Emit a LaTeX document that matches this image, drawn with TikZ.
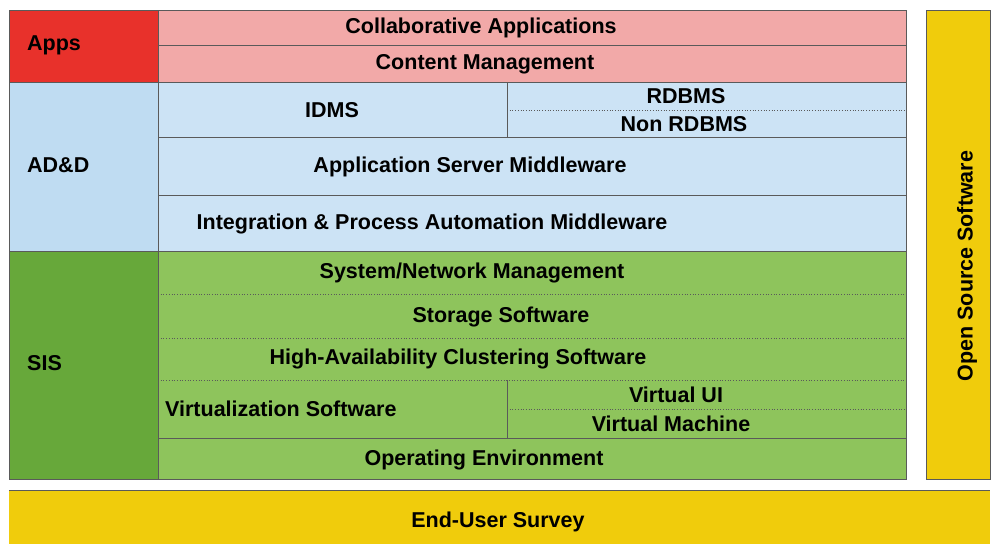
\documentclass[tikz,border=0pt]{standalone}
\usepackage{fontspec}
\setmainfont{Liberation Sans}
\usetikzlibrary{positioning}

\definecolor{appsred}{HTML}{E8312B}
\definecolor{appspink}{HTML}{F2A9A8}
\definecolor{addblue}{HTML}{BFDCF2}
\definecolor{addgrid}{HTML}{CCE3F5}
\definecolor{sisgreen}{HTML}{67A83A}
\definecolor{sisgrid}{HTML}{8EC45C}
\definecolor{osyellow}{HTML}{F0CC0C}
\definecolor{edge}{HTML}{5A5A5A}

\tikzset{
	layer/.style={font=\bfseries\fontsize{21.5}{25}\selectfont, text=black, inner sep=0pt},
	sep/.style={draw=edge, line width=0.7pt},
	dotsep/.style={draw=edge, line width=0.7pt, dotted},
}

\begin{document}
\begin{tikzpicture}[x=1pt, y=-1pt]

	\useasboundingbox (0,0) rectangle (993,544);

	%layer fills
	\fill[appsred] (9,10) rectangle (158,82);
	\fill[appspink] (158,10) rectangle (906,82);
	\fill[addblue] (9,82) rectangle (158,251);
	\fill[addgrid] (158,82) rectangle (906,251);
	\fill[sisgreen] (9,251) rectangle (158,479);
	\fill[sisgrid] (158,251) rectangle (906,479);
	\fill[osyellow] (926,10) rectangle (990,479);
	\fill[osyellow] (9,490) rectangle (990,544);

	%Apps rows
	\draw[sep] (158,45) -- (906,45);
	\draw[sep] (9,82) -- (906,82);
	%AD&D rows
	\draw[sep] (507,82) -- (507,137);
	\draw[dotsep] (507,110) -- (906,110);
	\draw[sep] (158,137) -- (906,137);
	\draw[sep] (158,195) -- (906,195);
	\draw[sep] (9,251) -- (906,251);
	%SIS rows
	\draw[dotsep] (158,294) -- (906,294);
	\draw[dotsep] (158,338) -- (906,338);
	\draw[dotsep] (158,380) -- (906,380);
	\draw[sep] (507,380) -- (507,438);
	\draw[dotsep] (507,409) -- (906,409);
	\draw[sep] (158,438) -- (906,438);

	%outlines
	\draw[sep] (158,10) -- (158,479);
	\draw[sep] (9,10) rectangle (906,479);
	\draw[sep] (926,10) rectangle (990,479);
	\draw[sep] (9,490) -- (990,490);

	%layer labels
	\node[layer, anchor=west] (apps) at (27,45) {Apps};
	\node[layer, anchor=west] (add) at (27,165) {AD\&D};
	\node[layer, anchor=west] (sis) at (27,363) {SIS};

	%Apps
	\node[layer] (collab) at (481,28) {Collaborative Applications};
	\node[layer] (content) at (485,64) {Content Management};
	%AD&D
	\node[layer] (idms) at (332,110) {IDMS};
	\node[layer] (rdbms) at (686,96) {RDBMS};
	\node[layer] (nonrdbms) at (684,124) {Non RDBMS};
	\node[layer] (appserver) at (470,167) {Application Server Middleware};
	\node[layer] (integration) at (432,224) {Integration \& Process Automation Middleware};
	%SIS
	\node[layer] (sysnet) at (472,273) {System/Network Management};
	\node[layer] (storage) at (501,317) {Storage Software};
	\node[layer] (highavail) at (458,359) {High-Availability Clustering Software};
	\node[layer, anchor=west] (virtsw) at (165,409) {Virtualization Software};
	\node[layer] (virtui) at (676,395) {Virtual UI};
	\node[layer] (virtmach) at (671,424) {Virtual Machine};
	\node[layer] (opsenv) at (484,460) {Operating Environment};

	%side and bottom bars
	\node[layer, rotate=90] (opensrc) at (967,266) {Open Source Software};
	\node[layer] (survey) at (498,522) {End-User Survey};

\end{tikzpicture}
\end{document}
